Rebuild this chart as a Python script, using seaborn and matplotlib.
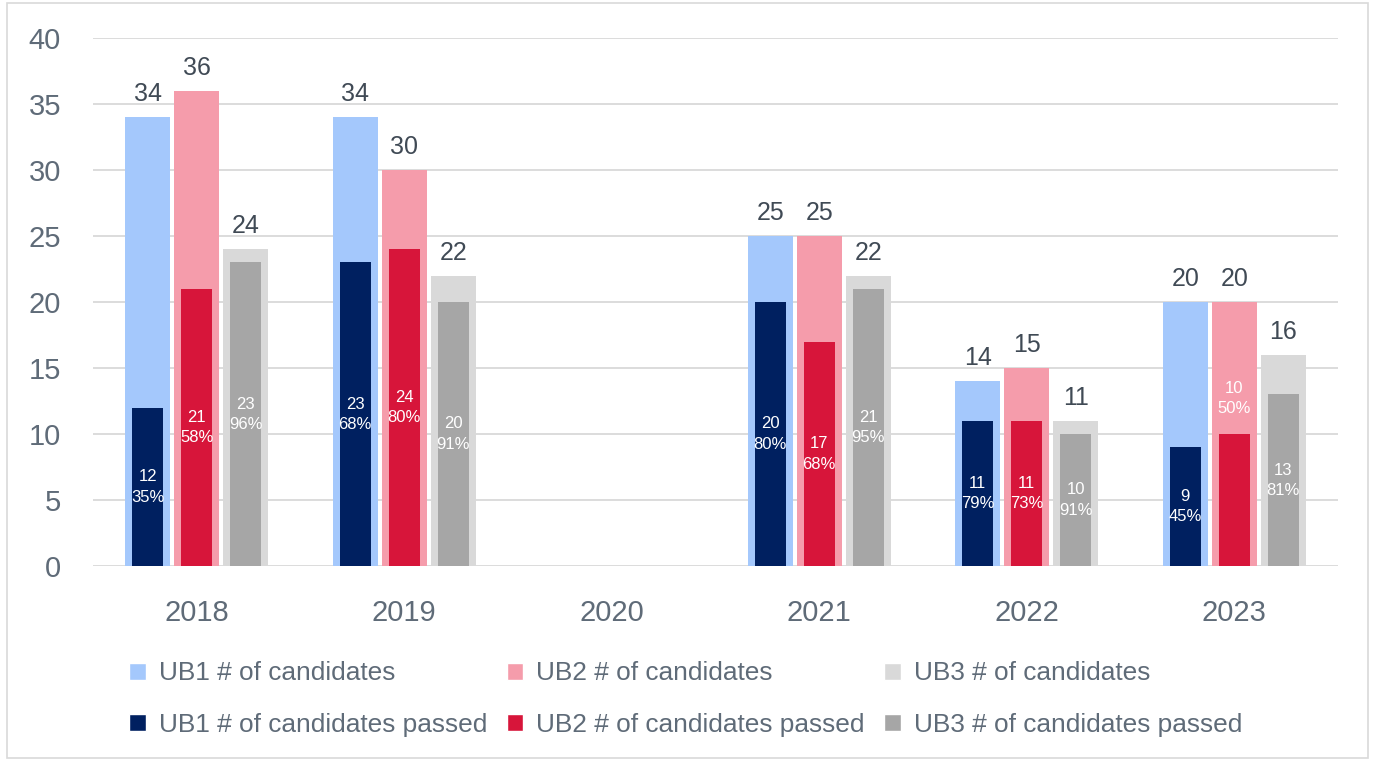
"""
Candidates vs. candidates passed per UB, 2018-2023.
"""

import numpy as np
import pandas as pd
import matplotlib.pyplot as plt
import seaborn as sns
from matplotlib.patches import Patch, Rectangle


# ---------------------------------------------------
# Data
# ---------------------------------------------------

years = ["2018", "2019", "2020", "2021", "2022", "2023"]
groups = ["UB1", "UB2", "UB3"]

ub1_candidates = [34, 34, np.nan, 25, 14, 20]
ub2_candidates = [36, 30, np.nan, 25, 15, 20]
ub3_candidates = [24, 22, np.nan, 22, 11, 16]

ub1_passed = [12, 23, np.nan, 20, 11, 9]
ub2_passed = [21, 24, np.nan, 17, 11, 10]
ub3_passed = [23, 20, np.nan, 21, 10, 13]

light_colors = ["#a4c8fc", "#f59cab", "#d9d9d9"]
dark_colors = ["#002060", "#d7153a", "#a6a6a6"]

TEXT_GREY = "#5f6b78"

rows = []
for g, cand, passed in zip(groups,
                           [ub1_candidates, ub2_candidates, ub3_candidates],
                           [ub1_passed, ub2_passed, ub3_passed]):
    for y, c, p in zip(years, cand, passed):
        rows.append({"year": y, "group": g, "candidates": c, "passed": p})
df = pd.DataFrame(rows)


# ---------------------------------------------------
# Figure
# ---------------------------------------------------

sns.set_style("white")
plt.rcParams["font.family"] = ["Liberation Sans", "DejaVu Sans"]

fig = plt.figure(figsize=(13.73, 7.61), dpi=100)
ax = fig.add_axes([0.0677, 0.2562, 0.9068, 0.6938])

GROUP_WIDTH = 0.708

sns.barplot(
    data=df, x="year", y="candidates", hue="group",
    order=years, hue_order=groups, palette=light_colors,
    width=GROUP_WIDTH, gap=0.08, errorbar=None, legend=False,
    saturation=1, linewidth=0, ax=ax, zorder=2
)
n_light = len(ax.patches)

sns.barplot(
    data=df, x="year", y="passed", hue="group",
    order=years, hue_order=groups, palette=dark_colors,
    width=GROUP_WIDTH, gap=0.365, errorbar=None, legend=False,
    saturation=1, linewidth=0, ax=ax, zorder=3
)

light_bars = ax.patches[:n_light]
dark_bars = ax.patches[n_light:]

# total labels above candidate bars
for bar in light_bars:
    h = bar.get_height()
    if np.isnan(h) or h == 0:
        continue
    ax.annotate(
        f"{int(h)}",
        (bar.get_x() + bar.get_width() / 2, h),
        xytext=(0, 8), textcoords="offset points",
        ha="center", va="bottom", fontsize=18, color="#404a55"
    )

# count + percent labels inside passed bars
offsets = (-0.236, 0.0, 0.236)
label_shift = {("2023", "UB2"): 7.7}
for bar_l, bar_d in zip(light_bars, dark_bars):
    p = bar_d.get_height()
    c = bar_l.get_height()
    if np.isnan(p) or p == 0:
        continue
    xc = bar_d.get_x() + bar_d.get_width() / 2
    year_i = int(round(xc))
    grp_i = int(np.argmin([abs(xc - year_i - o) for o in offsets]))
    yc = p / 2 + label_shift.get((years[year_i], groups[grp_i]), 0)
    ax.text(
        xc, yc, f"{int(p)}\n{round(p / c * 100):.0f}%",
        ha="center", va="center", fontsize=12, color="white",
        linespacing=1.45, zorder=4
    )

# axes styling
ax.set_xlim(-0.5, 5.5)
ax.set_ylim(0, 40)
ax.set_yticks(range(0, 41, 5))
ax.yaxis.grid(True, color="#d9d9d9", linewidth=1.3, zorder=0)
ax.set_axisbelow(True)
for side in ["top", "right", "left", "bottom"]:
    ax.spines[side].set_visible(False)
ax.tick_params(axis="both", length=0, labelsize=21, colors=TEXT_GREY)
ax.tick_params(axis="x", pad=24)
ax.tick_params(axis="y", pad=23)
ax.set_xlabel("")
ax.set_ylabel("")

# legend (filled column by column, so interleave candidates / passed)
handles = []
for g, lc, dc in zip(groups, light_colors, dark_colors):
    handles.append(Patch(facecolor=lc, label=f"{g} # of candidates"))
    handles.append(Patch(facecolor=dc, label=f"{g} # of candidates passed"))

fig.legend(
    handles=handles, ncol=3, loc="upper left",
    bbox_to_anchor=(0.077, 0.162), frameon=False,
    fontsize=18.9, labelcolor=TEXT_GREY,
    handlelength=0.62, handleheight=0.62, handletextpad=0.5,
    columnspacing=0.75, labelspacing=1.05
)

# light frame around the figure
fig.patches.append(Rectangle(
    (0.005, 0.004), 0.991, 0.992, transform=fig.transFigure,
    fill=False, edgecolor="#d9d9d9", linewidth=1.2
))

fig.savefig("out.png", dpi=100)
